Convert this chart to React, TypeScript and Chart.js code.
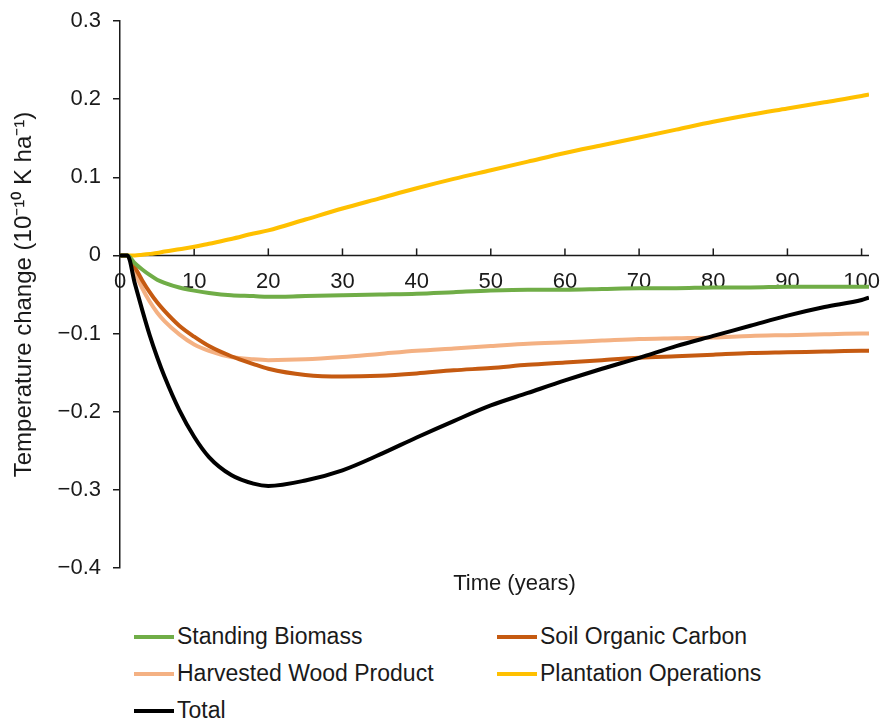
import React, { useEffect, useRef } from "react";
import { Chart, registerables } from "chart.js";

Chart.register(...registerables);

const FONT = '"Liberation Sans", Arial, sans-serif';

const YEARS = [0, 1, 2, 3, 4, 5, 6, 8, 10, 12, 15, 18, 20, 25, 30, 35, 40, 45, 50, 55, 60, 65, 70, 75, 80, 85, 90, 95, 100, 101];

const STANDING_BIOMASS = [0, 0, -0.010, -0.018, -0.025, -0.031, -0.035, -0.041, -0.045, -0.048, -0.051, -0.052, -0.053, -0.052, -0.051, -0.050, -0.049, -0.047, -0.045, -0.044, -0.044, -0.043, -0.042, -0.042, -0.041, -0.041, -0.040, -0.040, -0.040, -0.040];
const SOIL_ORGANIC_CARBON = [0, 0, -0.015, -0.032, -0.047, -0.060, -0.071, -0.090, -0.104, -0.116, -0.129, -0.139, -0.145, -0.153, -0.155, -0.154, -0.151, -0.147, -0.144, -0.140, -0.137, -0.134, -0.131, -0.129, -0.127, -0.125, -0.124, -0.123, -0.122, -0.122];
const HARVESTED_WOOD = [0, 0, -0.022, -0.042, -0.059, -0.073, -0.084, -0.101, -0.114, -0.122, -0.130, -0.133, -0.134, -0.133, -0.130, -0.126, -0.122, -0.119, -0.116, -0.113, -0.111, -0.109, -0.107, -0.106, -0.105, -0.103, -0.102, -0.101, -0.100, -0.100];
const PLANTATION_OPS = [0, 0, 0.000, 0.001, 0.002, 0.003, 0.005, 0.008, 0.011, 0.015, 0.021, 0.028, 0.032, 0.046, 0.060, 0.073, 0.086, 0.098, 0.109, 0.120, 0.131, 0.141, 0.151, 0.161, 0.171, 0.180, 0.188, 0.196, 0.204, 0.206];
const TOTAL = [0, 0, -0.036, -0.070, -0.102, -0.130, -0.155, -0.198, -0.232, -0.258, -0.281, -0.292, -0.295, -0.288, -0.275, -0.255, -0.233, -0.212, -0.192, -0.176, -0.160, -0.145, -0.131, -0.116, -0.103, -0.090, -0.077, -0.066, -0.057, -0.054];

const SERIES_NAMES = ["Standing Biomass", "Soil Organic Carbon", "Harvested Wood Product", "Plantation Operations", "Total"];
const SERIES_VALUES = [STANDING_BIOMASS, SOIL_ORGANIC_CARBON, HARVESTED_WOOD, PLANTATION_OPS, TOTAL];
const SERIES_COLORS = ["#70AD47", "#C55A11", "#F4B183", "#FFC000", "#000000"];
const SERIES_ORDER = [1, 2, 3, 4, 0];

const X_TICKS = [0, 10, 20, 30, 40, 50, 60, 70, 80, 90, 100];
const X_TITLE = "Time (years)";
const Y_TITLE = "Temperature change (10\u207B\u00B9\u2070 K ha\u207B\u00B9)";

const AXIS_COLOR = "#1a1a1a";

const zeroAxisPlugin = {
  id: "zeroAxis",
  beforeDatasetsDraw(chart: any) {
    const { ctx, chartArea, scales } = chart;
    const x = scales.x;
    const y = scales.y;
    const y0 = y.getPixelForValue(0);
    ctx.save();
    ctx.strokeStyle = AXIS_COLOR;
    ctx.lineWidth = 1.5;
    ctx.beginPath();
    ctx.moveTo(chartArea.left, y0);
    ctx.lineTo(chartArea.right, y0);
    ctx.stroke();
    X_TICKS.forEach((v) => {
      if (v === 0) return;
      const px = x.getPixelForValue(v);
      ctx.beginPath();
      ctx.moveTo(px, y0);
      ctx.lineTo(px, y0 - 7);
      ctx.stroke();
    });
    ctx.fillStyle = AXIS_COLOR;
    ctx.font = `22px ${FONT}`;
    ctx.textAlign = "center";
    ctx.textBaseline = "middle";
    X_TICKS.forEach((v) => {
      const px = x.getPixelForValue(v);
      ctx.fillText(String(v), px, y0 + 27);
    });
    ctx.fillText(X_TITLE, (chartArea.left + chartArea.right) / 2 + 20, chartArea.bottom + 16);
    ctx.restore();
  },
};

export default function App() {
  const canvasRef = useRef<HTMLCanvasElement | null>(null);

  useEffect(() => {
    if (!canvasRef.current) return;
    Chart.defaults.font.family = FONT;
    const datasets = SERIES_NAMES.map((name, i) => ({
      label: name,
      data: YEARS.map((yr, j) => ({ x: yr, y: SERIES_VALUES[i][j] })),
      borderColor: SERIES_COLORS[i],
      backgroundColor: SERIES_COLORS[i],
      borderWidth: 4,
      pointRadius: 0,
      cubicInterpolationMode: "monotone" as const,
      fill: false,
      order: SERIES_ORDER[i],
    }));
    const chart = new Chart(canvasRef.current, {
      type: "line",
      data: { datasets },
      options: {
        animation: false,
        responsive: true,
        maintainAspectRatio: false,
        layout: { padding: { top: 13, right: 16, left: 0, bottom: 0 } },
        plugins: { legend: { display: false }, tooltip: { enabled: false } },
        scales: {
          x: {
            type: "linear",
            min: 0,
            max: 101,
            afterFit: (s: any) => {
              s.height = 40;
            },
            ticks: { display: false },
            grid: { display: false },
            border: { display: false },
          },
          y: {
            type: "linear",
            min: -0.4,
            max: 0.3,
            afterFit: (s: any) => {
              s.width = 112;
              s.paddingTop = 0;
              s.paddingBottom = 0;
            },
            ticks: {
              stepSize: 0.1,
              padding: 12,
              color: AXIS_COLOR,
              font: { size: 22, family: FONT },
              callback: (v: any) => {
                const n = Math.round(Number(v) * 10) / 10;
                if (n === 0) return "0";
                return (n < 0 ? "\u2212" : "") + Math.abs(n).toFixed(1);
              },
            },
            grid: {
              drawOnChartArea: false,
              drawTicks: true,
              tickLength: 7,
              color: AXIS_COLOR,
              lineWidth: 1.5,
            },
            border: { display: true, color: AXIS_COLOR, width: 1.5 },
            title: {
              display: true,
              text: Y_TITLE,
              color: AXIS_COLOR,
              font: { size: 24, family: FONT },
              padding: { top: 2, bottom: 0 },
            },
          },
        },
      },
      plugins: [zeroAxisPlugin],
    } as any);
    return () => chart.destroy();
  }, []);

  return (
    <div style={{ width: 877, fontFamily: FONT }}>
      <div style={{ position: "relative", width: 877, height: 600 }}>
        <canvas ref={canvasRef} style={{ display: "block" }} />
      </div>
      <div
        style={{
          display: "grid",
          gridTemplateColumns: "363px auto",
          marginLeft: 126,
          marginTop: 10,
        }}
      >
        {SERIES_NAMES.map((name, i) => (
          <div key={name} style={{ display: "flex", alignItems: "center", height: 37 }}>
            <span
              style={{
                display: "inline-block",
                width: 40,
                height: 4,
                background: SERIES_COLORS[i],
                marginRight: 3,
              }}
            />
            <span style={{ fontSize: 23, color: AXIS_COLOR, lineHeight: "37px" }}>{name}</span>
          </div>
        ))}
      </div>
    </div>
  );
}
